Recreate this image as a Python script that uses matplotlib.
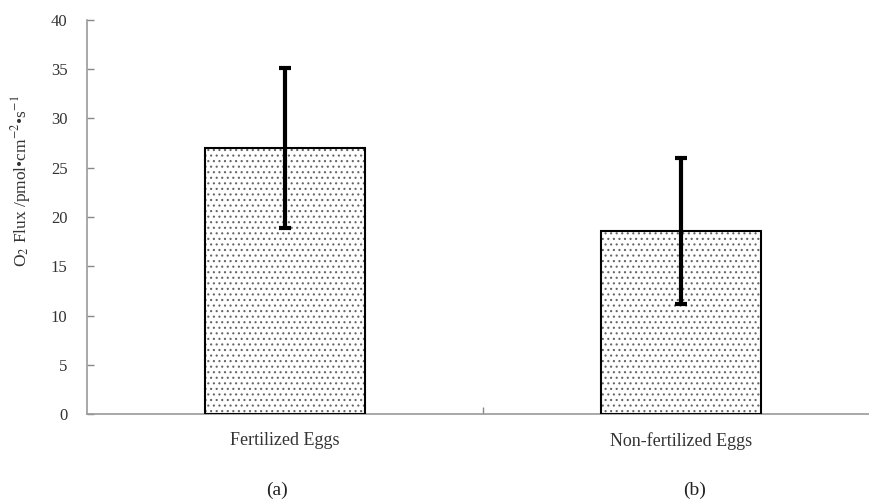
import matplotlib
matplotlib.use('Agg')
import matplotlib.pyplot as plt

plt.rcParams['font.family'] = 'Liberation Serif'
plt.rcParams['mathtext.fontset'] = 'stix'
plt.rcParams['hatch.linewidth'] = 0.8

# data
categories = ['Fertilized Eggs', 'Non-fertilized Eggs']
flux = [27.0, 18.6]
flux_err = [8.1, 7.4]
panel_labels = ['(a)', '(b)']
panel_x = [277, 695]  # pixel centres of the panel letters

fig = plt.figure(figsize=(8.7, 5), dpi=100)
ax = fig.add_axes([0.1, 0.172, 0.9, 0.788])

x = list(range(len(categories)))
# dotted fill, then black outline on top
ax.bar(x, flux, width=0.404, color='white', edgecolor='#666666', linewidth=0, hatch='...', zorder=2)
ax.bar(x, flux, width=0.404, fill=False, edgecolor='black', linewidth=1.5, zorder=3)
ax.errorbar(x, flux, yerr=flux_err, fmt='none', ecolor='black', elinewidth=3,
            capsize=4, capthick=3, zorder=4)

ax.set_xlim(-0.5, 1.477)
ax.set_ylim(0, 40)
ax.set_yticks(range(0, 41, 5))
ax.set_xticks([0.5])
ax.set_xticklabels([''])
ax.tick_params(axis='both', direction='in', length=5, color='#888888', width=1,
               labelsize=12, labelcolor='#333333')
ax.tick_params(axis='y', pad=14)
for s in ['top', 'right']:
    ax.spines[s].set_visible(False)
for s in ['left', 'bottom']:
    ax.spines[s].set_color('#999999')
    ax.spines[s].set_linewidth(1.2)

# category names under the bars
for xi, name in zip(x, categories):
    ax.text(xi, -2.7, name, ha='center', va='center', fontsize=13, color='#333333')

# y label placed in figure pixels so the superscripts are not clipped
fig.text(21 / 870, 1 - 181 / 500, 'O$_2$ Flux /pmol\u2022cm$^{-2}$\u2022s$^{-1}$',
         rotation=90, ha='center', va='center', fontsize=12.5, color='#333333')

for px, lab in zip(panel_x, panel_labels):
    fig.text(px / 870, 1 - 490 / 500, lab, ha='center', va='center', fontsize=14, color='#222222')

fig.savefig('out.png', dpi=100)
